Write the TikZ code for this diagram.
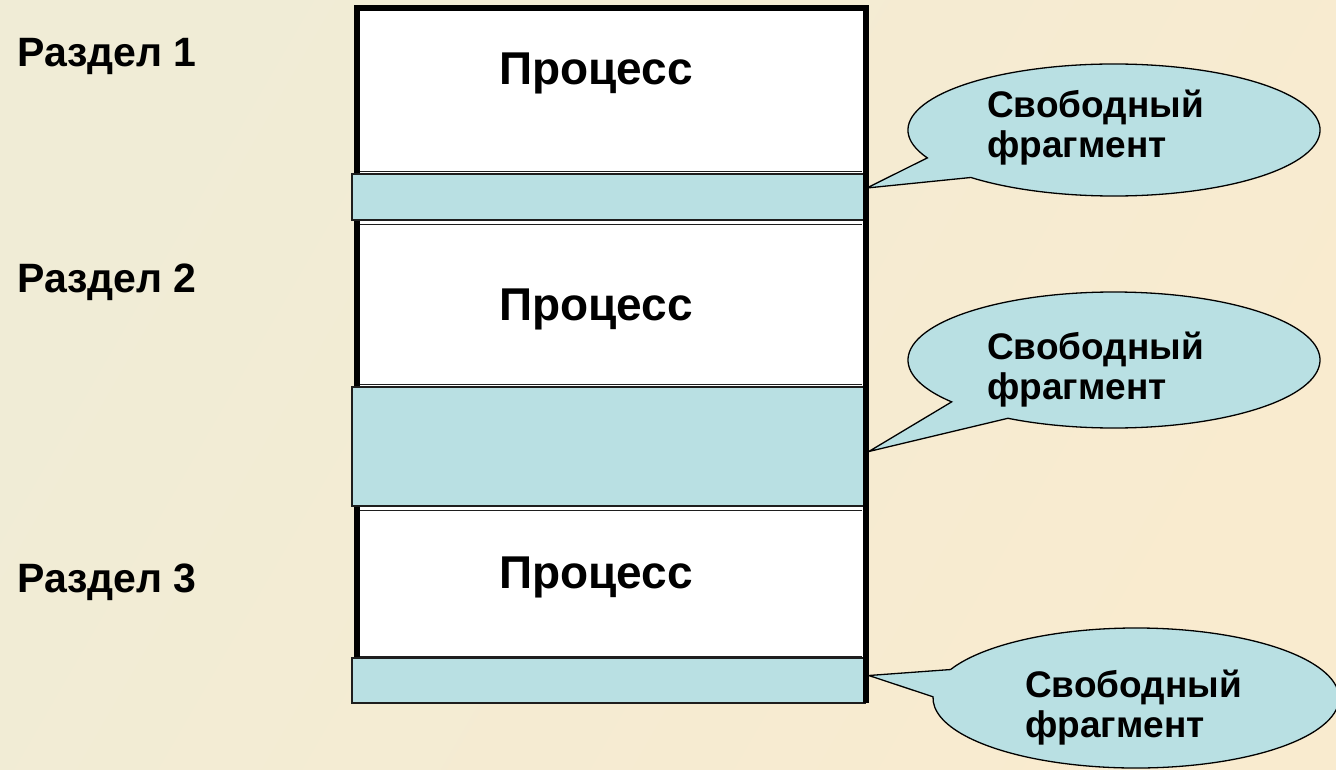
\documentclass[tikz,border=0pt]{standalone}
\usepackage{fontspec}
\setmainfont{Liberation Sans}
\usetikzlibrary{calc}
\definecolor{bgA}{RGB}{240,236,214}
\definecolor{bgB}{RGB}{249,235,207}
\definecolor{freeblue}{RGB}{185,224,227}
\definecolor{edge}{RGB}{30,30,30}
\tikzset{
  column/.style={draw=black, line width=6pt, fill=white},
  freebar/.style={draw=edge, line width=1.6pt, fill=freeblue, inner sep=0pt, minimum width=513pt},
  callout/.style={draw=black, line width=1.3pt, fill=freeblue, line join=miter},
  seclabel/.style={font=\fontsize{41}{48}\selectfont\bfseries, anchor=base west, inner sep=0pt},
  proclabel/.style={font=\fontsize{46}{50}\selectfont\bfseries, anchor=base, inner sep=0pt},
  freelabel/.style={font=\fontsize{37}{40}\selectfont\bfseries, align=left, anchor=base west, inner sep=0pt},
}
\begin{document}
\begin{tikzpicture}[x=1pt, y=-1pt]
  % page background
  \shade[left color=bgA, right color=bgB, shading angle=60] (0,0) rectangle (1336,769);
  \useasboundingbox (0,0) rectangle (1336,769);

  % memory column
  \draw[column] (357,8) rectangle (866,699);

  % thin edges of the process areas next to the free fragments
  \foreach \yy in {171, 224, 384, 510, 656} {
    \draw[edge, line width=1pt] (360,\yy) -- (862,\yy);
  }

  % free fragments
  \node[freebar, minimum height=46pt] (f1) at (608.5,197) {};
  \node[freebar, minimum height=119pt] (f2) at (608.5,446.5) {};
  \node[freebar, minimum height=45pt] (f3) at (608.5,680.5) {};
  \draw[black, line width=6pt] (866,5) -- (866,703);

  % process labels
  \node[proclabel] (p1) at (596,84) {Процесс};
  \node[proclabel] (p2) at (596,320) {Процесс};
  \node[proclabel] (p3) at (596,588) {Процесс};

  % section labels
  \node[seclabel] (s1) at (17,66) {Раздел 1};
  \node[seclabel] (s2) at (17,292) {Раздел 2};
  \node[seclabel] (s3) at (17,592) {Раздел 3};

  % callout centres and tail tips
  \coordinate (c1) at (1114,130);
  \coordinate (c2) at (1114,360);
  \coordinate (c3) at (1136,698);
  \coordinate (t1) at ($(f1.east)+(1,-9)$);
  \coordinate (t2) at ($(f2.east)+(3,5)$);
  \coordinate (t3) at ($(f3.east)+(3,-5)$);

  \draw[callout] (t1) -- ($(c1)+(155:206 and 66)$)
    arc[start angle=155, end angle=494, x radius=206, y radius=66] -- cycle;
  \draw[callout] (t2) -- ($(c2)+(142:206 and 68)$)
    arc[start angle=142, end angle=481, x radius=206, y radius=68] -- cycle;
  \draw[callout] (t3) -- ($(c3)+(204:203 and 70)$)
    arc[start angle=204, end angle=541, x radius=203, y radius=70] -- cycle;

  % callout texts (anchored at the baseline of the second line)
  \node[freelabel] (l1) at (987,157) {Свободный\\фрагмент};
  \node[freelabel] (l2) at (987,399) {Свободный\\фрагмент};
  \node[freelabel] (l3) at (1025,737) {Свободный\\фрагмент};
\end{tikzpicture}
\end{document}
